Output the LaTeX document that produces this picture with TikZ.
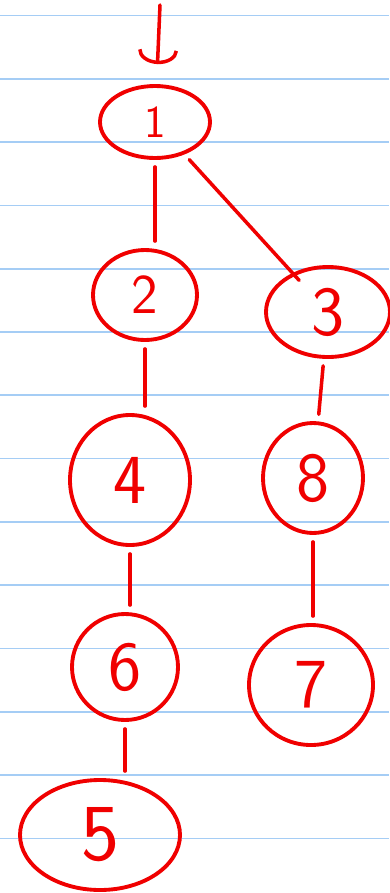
\documentclass[tikz,border=0pt]{standalone}
\usetikzlibrary{arrows.meta,shapes.geometric}
\definecolor{ruleblue}{RGB}{165,205,245}
\definecolor{inkred}{RGB}{240,0,0}

\begin{document}
\begin{tikzpicture}[>={Arc Barb[width=0.8cm,length=0.28cm]},
  vertex/.style={ellipse,draw=inkred,line width=2.2pt,inner sep=0pt,text=inkred,font=\sffamily\fontsize{40}{40}\selectfont},
  link/.style={draw=inkred,line width=2pt,line cap=round,shorten <=4pt,shorten >=4pt}]
\useasboundingbox (0,0) rectangle (7.78,-17.86);
\fill[white] (0,0) rectangle (7.78,-17.86);
\foreach \k in {0,...,13} \draw[ruleblue,line width=1pt] (0,{-0.31-1.266*\k}) -- (7.78,{-0.31-1.266*\k});
\node[vertex,minimum width=2.2cm,minimum height=1.44cm,font=\sffamily\fontsize{26}{26}\selectfont] (n1) at (3.1,-2.44) {1};
\node[vertex,minimum width=2.08cm,minimum height=1.8cm,font=\sffamily\fontsize{32}{32}\selectfont] (n2) at (2.9,-5.9) {2};
\node[vertex,minimum width=2.48cm,minimum height=1.8cm] (n3) at (6.56,-6.24) {3};
\node[vertex,minimum width=2.4cm,minimum height=2.6cm] (n4) at (2.6,-9.6) {4};
\node[vertex,minimum width=2.0cm,minimum height=2.2cm] (n8) at (6.26,-9.56) {8};
\node[vertex,minimum width=2.12cm,minimum height=2.12cm] (n6) at (2.5,-13.34) {6};
\node[vertex,minimum width=2.48cm,minimum height=2.4cm] (n7) at (6.22,-13.7) {7};
\node[vertex,minimum width=3.2cm,minimum height=2.2cm,font=\sffamily\fontsize{46}{46}\selectfont] (n5) at (2.0,-16.7) {5};
\coordinate (entry) at (3.2,-0.1);
\draw[link,->,shorten <=0pt,shorten >=0.4cm] (entry) -- (n1);
\draw[link] (n1.south) -- (n1.south |- n2.north);
\draw[link,shorten >=-0.2cm] (n1) -- (n3);
\draw[link] (n2.south) -- (n2.south |- n4.north);
\draw[link] (n3) -- (n8);
\draw[link] (n4.south) -- (n4.south |- n6.north);
\draw[link] (n8.south) -- (n8.south |- n7.north);
\draw[link] (n6.south) -- (n6.south |- n5.north);
\end{tikzpicture}
\end{document}
